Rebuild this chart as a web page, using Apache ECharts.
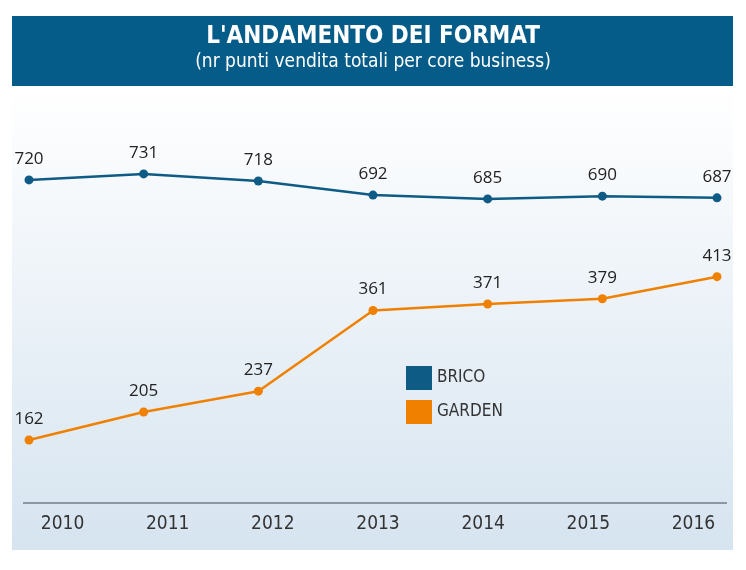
<!DOCTYPE html>
<html>
<head>
<meta charset="utf-8">
<script src="https://cdn.jsdelivr.net/npm/echarts@6/dist/echarts.min.js"></script>
<style>html,body{margin:0;padding:0;background:#fff}#chart{width:746px;height:570px}</style>
</head>
<body>
<div id="chart"></div>
<script>
var years = ['2010', '2011', '2012', '2013', '2014', '2015', '2016'];
var brico = [720, 731, 718, 692, 685, 690, 687];
var garden = [162, 205, 237, 361, 371, 379, 413];

var myChart = echarts.init(document.getElementById('chart'));
var font = '"Open Sans", "DejaVu Sans Condensed", sans-serif';

var option = {
	animation: false,
	textStyle: { fontFamily: font },
	graphic: [
		{ type: 'rect', z: -10, shape: { x: 12, y: 86, width: 721, height: 464 },
		  style: { fill: new echarts.graphic.LinearGradient(0, 0, 0, 1, [
			{ offset: 0, color: '#ffffff' }, { offset: 1, color: '#d6e4f0' }]) } },
		{ type: 'rect', z: -10, shape: { x: 12, y: 16, width: 721, height: 70 }, style: { fill: '#065c89' } },
		{ type: 'line', shape: { x1: 23, y1: 503, x2: 727, y2: 503 }, style: { stroke: '#3a4a5a', lineWidth: 1 } }
	],
	title: {
		text: "L'ANDAMENTO DEI FORMAT",
		subtext: '(nr punti vendita totali per core business)',
		left: 'center', top: 20, itemGap: 4,
		textStyle: { color: '#fff', fontSize: 24, fontWeight: 'bold', fontFamily: '"DejaVu Sans Condensed", sans-serif' },
		subtextStyle: { color: '#fff', fontSize: 19, fontFamily: '"DejaVu Sans Condensed", sans-serif', fontWeight: 300 }
	},
	legend: {
		orient: 'vertical', left: 401, top: 361, itemGap: 10,
		itemWidth: 26, itemHeight: 24, icon: 'rect',
		textStyle: { fontSize: 17, color: '#333', fontFamily: '"DejaVu Sans Condensed", sans-serif' },
		data: ['BRICO', 'GARDEN']
	},
	grid: [
		{ left: 29, right: 29, top: 88, bottom: 65 },
		{ left: 10, right: 0, top: 88, bottom: 65 }
	],
	xAxis: [
		{ type: 'category', gridIndex: 0, data: years, boundaryGap: false, show: false },
		{ type: 'category', gridIndex: 1, data: years, boundaryGap: true,
		  axisLine: { show: false }, axisTick: { show: false },
		  axisLabel: { color: '#333', fontSize: 19, margin: 10, fontFamily: '"DejaVu Sans Condensed", sans-serif' } }
	],
	yAxis: [
		{ type: 'value', gridIndex: 0, min: 122, max: 889, show: false },
		{ type: 'value', gridIndex: 0, min: 62, max: 703, show: false },
		{ type: 'value', gridIndex: 1, show: false }
	],
	series: [
		{ name: 'BRICO', type: 'line', xAxisIndex: 0, yAxisIndex: 0, data: brico,
		  color: '#0e5b86', symbol: 'circle', symbolSize: 9, lineStyle: { width: 2.5 },
		  label: { show: true, position: 'top', distance: 8, color: '#222', fontSize: 17 } },
		{ name: 'GARDEN', type: 'line', xAxisIndex: 0, yAxisIndex: 1, data: garden,
		  color: '#f08000', symbol: 'circle', symbolSize: 9, lineStyle: { width: 2.5 },
		  label: { show: true, position: 'top', distance: 8, color: '#222', fontSize: 17 } }
	]
};
myChart.setOption(option);
</script>
</body>
</html>
